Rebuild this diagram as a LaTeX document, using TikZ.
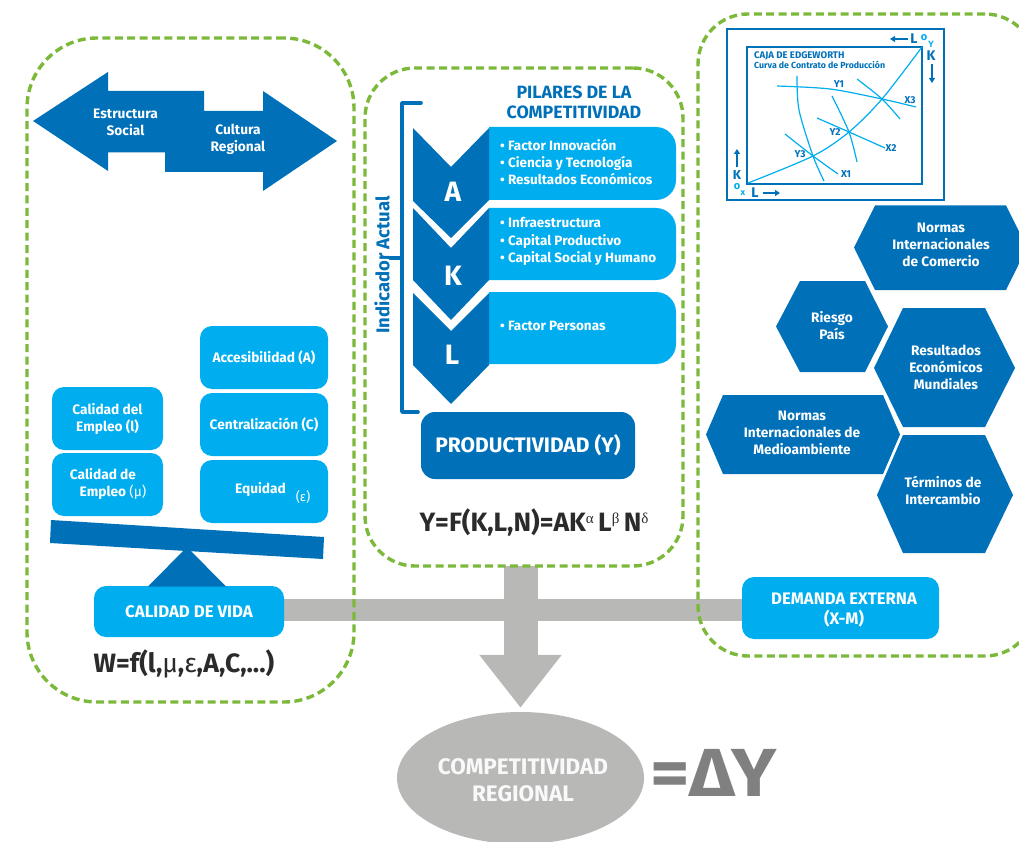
\documentclass[tikz,border=0pt]{standalone}
\usepackage{fontspec}
\setmainfont{Fira Sans}
\newfontfamily\serifg{Liberation Serif}
\usetikzlibrary{arrows.meta,calc,shapes.geometric}
\pgfdeclarelayer{background}
\pgfsetlayers{background,main}
\definecolor{dblue}{HTML}{0070B9}
\definecolor{lblue}{HTML}{00AEEF}
\definecolor{gbar}{HTML}{B8B8B7}
\definecolor{gdark}{HTML}{808080}
\definecolor{gframe}{HTML}{7CB93A}
\definecolor{ink}{HTML}{2B2B2B}
\newcommand{\fs}[2]{\fontsize{#1}{#2}\selectfont\bfseries}
\newcommand{\expo}[1]{\raisebox{8pt}{\mdseries\serifg\fontsize{15}{15}\selectfont #1}}
\tikzset{
  frame/.style={draw=gframe,line width=3.4pt,dash pattern=on 8pt off 4.4pt,rounded corners=#1,inner sep=0pt,fill=none},
  lbox/.style={fill=lblue,rounded corners=12pt,inner sep=0pt,text=white,align=center,font=\fs{13.7}{17}},
  dtext/.style={text=white,align=center,font=\fs{13.7}{17},inner sep=0pt},
  hexf/.style={fill=dblue,draw=none},
  chev/.style={fill=dblue,draw=none},
  list/.style={text=white,align=left,anchor=west,font=\fs{13.5}{17.3},inner sep=0pt},
  bar/.style={draw=gbar,line width=22pt},
  edge/.style={draw=dblue,line width=1.6pt},
  ecurve/.style={draw=lblue,line width=1.2pt},
  etext/.style={text=dblue,inner sep=0pt,font=\fs{8.8}{10}},
  earrow/.style={draw=dblue,line width=1.1pt,-{Triangle[length=5pt,width=6pt]}},
}
\begin{document}
\begin{tikzpicture}[x=1pt,y=-1pt]
\useasboundingbox (0,0) rectangle (1019,842);
% end boxes
\node[fill=gbar,ellipse,minimum width=247pt,minimum height=132pt,inner sep=0pt] (elip) at (520.5,778) {};
\node[lbox,minimum width=190pt,minimum height=51pt,font=\fs{16.8}{18}] (vida) at (189,611.5) {CALIDAD DE VIDA};
\node[lbox,minimum width=197pt,minimum height=62pt] (demanda) at (840.5,608) {};
\node[text=white,align=center,font=\fs{16.7}{20},inner sep=0pt] (demtext) at (844,610) {DEMANDA EXTERNA\\(X-M)};
\coordinate (midbottom) at (520.5,566);
\begin{pgfonlayer}{background}
% grey connectors
\draw[bar] ($(vida.east)+(0,-1.5)$) -- ($(demanda.west)+(0,2)$);
\draw[draw=gbar,line width=34pt,-{Triangle[length=53pt,width=79pt]},shorten >=4pt] (midbottom) -- (elip.north);
% green frames
\node[frame=70pt,minimum width=327pt,minimum height=664pt] (left) at (190.5,370) {};
\node[frame=50pt,minimum width=318pt,minimum height=498pt] (mid) at (524,317) {};
\node[frame=50pt,minimum width=337pt,minimum height=642pt] (right) at (866.5,335) {};
\end{pgfonlayer}
% double arrow
\fill[dblue] (33,121) -- (108,72) -- (108,91) -- (204,91) -- (204,111) -- (263,111) -- (263,91) -- (337,141) -- (263,191) -- (263,172) -- (165,172) -- (165,152.5) -- (108,152.5) -- (108,171) -- cycle;
\node[dtext] (estr) at (125.5,122) {Estructura\\Social};
\node[dtext] (cult) at (238,139.5) {Cultura\\Regional};
% left stack
\node[lbox,minimum width=128pt,minimum height=63pt] (acc) at (264,357.5) {Accesibilidad (A)};
\node[lbox,minimum width=128pt,minimum height=63pt] (cen) at (264,424.5) {Centralización (C)};
\node[lbox,minimum width=128pt,minimum height=63pt] (equ) at (264,491.5) {};
\node[dtext] (equt) at (260.5,489) {Equidad};
\node[text=white,inner sep=0pt,font=\fontsize{13}{15}\selectfont] (eps) at (303,497) {(ε)};
\node[lbox,minimum width=111pt,minimum height=63pt] (cal1) at (107.5,418.5) {Calidad del\\Empleo (l)};
\node[lbox,minimum width=111pt,minimum height=63pt] (cal2) at (107.5,484.5) {};
\node[dtext] (cal2a) at (103,474.5) {Calidad de};
\node[dtext] (cal2b) at (113,492) {Empleo {\mdseries(μ)}};
% balance
\fill[dblue] (51,520) -- (324,537) -- (323,559) -- (50,543) -- cycle;
\fill[dblue] (148,586.5) -- (187,547) -- (226,586.5) -- cycle;
\node[text=ink,inner sep=0pt,font=\fs{26.5}{28}] (wform) at (184,664) {W=f(l,{\mdseries μ},{\mdseries ε},A,C,...)};
% middle
\node[text=dblue,align=center,inner sep=0pt,font=\fs{17.8}{20}] (pil) at (574,102) {PILARES DE LA\\COMPETITIVIDAD};
\coordinate (brt) at (421,103); \coordinate (brb) at (418,412);
\draw[draw=dblue,line width=3.6pt,line cap=round,line join=round] (brt) -- (402,103) -- (402,412) -- (brb);
\draw[draw=dblue,line width=3.6pt,line cap=round] (402,258) -- (390,258);
\node[text=dblue,rotate=90,inner sep=0pt,font=\fontsize{18.5}{20}\selectfont\bfseries] (ind) at (382,265) {Indicador Actual};
\fill[lblue] (489,127) -- (656,127) .. controls (667,127) and (676,136) .. (676,147) -- (676,180) .. controls (676,191) and (667,200) .. (656,200) -- (489,200) -- cycle;
\fill[lblue] (489,208) -- (656,208) .. controls (667,208) and (676,217) .. (676,228) -- (676,260) .. controls (676,271) and (667,280) .. (656,280) -- (489,280) -- cycle;
\fill[lblue] (489,292) -- (656,292) .. controls (667,292) and (676,301) .. (676,312) -- (676,344) .. controls (676,355) and (667,364) .. (656,364) -- (489,364) -- cycle;
\fill[chev] (413,128) -- (451,167) -- (489,128) -- (489,200) -- (451,238) -- (413,201) -- cycle;
\fill[chev] (413,208) -- (451,248) -- (489,208) -- (489,280) -- (451,320) -- (413,280) -- cycle;
\fill[chev] (413,293) -- (451,331) -- (489,293) -- (489,365) -- (451,404) -- (413,365) -- cycle;
\node[text=white,inner sep=0pt,font=\fs{28}{30}] (la) at (453,192) {A};
\node[text=white,inner sep=0pt,font=\fs{28}{30}] (lk) at (453,276) {K};
\node[text=white,inner sep=0pt,font=\fs{28}{30}] (ll) at (452,355) {L};
\node[list] (l1) at (500,162) {• Factor Innovación\\• Ciencia y Tecnología\\• Resultados Económicos};
\node[list] (l2) at (500,241.5) {• Infraestructura\\• Capital Productivo\\• Capital Social y Humano};
\node[list] (l3) at (500,326) {• Factor Personas};
\node[fill=dblue,rounded corners=14pt,minimum width=214pt,minimum height=67pt,inner sep=0pt,text=white,font=\fs{21}{24}] (prod) at (528,445.5) {PRODUCTIVIDAD (Y)};
\node[text=ink,inner sep=0pt,font=\fs{26.5}{28}] (yform) at (534,522) {Y=F(K,L,N)=AK\expo{α}\,L\expo{β}\,N\expo{δ}};
% edgeworth
\draw[edge] (727,29) rectangle (944,200);
\draw[edge] (747,47) rectangle (922,184);
\node[etext,anchor=west,font=\fs{9.6}{11}] (e1) at (754,56) {CAJA DE EDGEWORTH};
\node[etext,anchor=west] (e2) at (754,65) {Curva de Contrato de Producción};
\draw[ecurve] plot[smooth] coordinates {(748,183) (813,156) (849,132) (882,99) (922,47)};
\draw[ecurve] plot[smooth] coordinates {(777,86) (830,89) (882,99) (916,107)};
\draw[ecurve] plot[smooth] coordinates {(797,76) (799,110) (813,156) (824,181)};
\draw[ecurve] plot[smooth] coordinates {(785,134) (813,156) (838,174)};
\draw[ecurve] plot[smooth] coordinates {(832,96) (849,132) (857,162)};
\draw[ecurve] plot[smooth] coordinates {(817,118) (849,132) (885,148)};
\draw[ecurve] plot[smooth] coordinates {(857,79) (882,99) (900,119)};
\node[etext,font=\fs{10}{11}] (y1) at (839,84) {Y1};
\node[etext,font=\fs{10}{11}] (y2) at (835,132) {Y2};
\node[etext,font=\fs{10}{11}] (y3) at (800,154) {Y3};
\node[etext,font=\fs{10}{11}] (x1) at (846,174) {X1};
\node[etext,font=\fs{10}{11}] (x2) at (891,148) {X2};
\node[etext,font=\fs{10}{11}] (x3) at (910,100) {X3};
\node[etext,font=\fs{14}{15}] (lt) at (914,39) {L};
\node[etext,font=\fs{14}{15}] (kt) at (931,56) {K};
\node[etext,font=\fs{13}{14}] (kb) at (737,175) {K};
\node[etext,font=\fs{14}{15}] (lb) at (755,193) {L};
\node[etext,text=lblue,font=\fs{11}{11}] (ot) at (924,38) {o};
\node[etext,text=lblue,font=\fs{9}{9}] (yt) at (931,44) {Y};
\node[etext,text=lblue,font=\fs{11}{11}] (ob) at (737,187) {o};
\node[etext,text=lblue,font=\fs{9}{9}] (xb) at (743,193) {x};
\draw[earrow] (lt.west) ++(-2,0) -- (890,39);
\draw[earrow] (kt.south) ++(1,3) -- (932,83);
\draw[earrow] (kb.north) ++(0,-3) -- (737,149);
\draw[earrow] (lb.east) ++(4,0) -- (780,193);
% hexagons
\fill[hexf] (854,247.5) -- (875,205.5) -- (1006,205.5) -- (1027,247.5) -- (1006,290) -- (875,290) -- cycle;
\fill[hexf] (776,326.5) -- (800,281) -- (865,281) -- (888,326.5) -- (865,372) -- (800,372) -- cycle;
\fill[hexf] (874,368) -- (903,308) -- (985,308) -- (1015,368) -- (985,427) -- (903,427) -- cycle;
\fill[hexf] (706,434.5) -- (723,395) -- (883,395) -- (900,434.5) -- (883,474) -- (723,474) -- cycle;
\fill[hexf] (877,495) -- (903,435) -- (985,435) -- (1013,495) -- (985,553) -- (903,553) -- cycle;
\node[dtext] (h1) at (941,245) {Normas\\Internacionales\\de Comercio};
\node[dtext] (h2) at (832,326) {Riesgo\\País};
\node[dtext] (h3) at (946,367) {Resultados\\Económicos\\Mundiales};
\node[dtext] (h4) at (802,432.5) {Normas\\Internacionales de\\Medioambiente};
\node[dtext] (h5) at (943,490.5) {Términos de\\Intercambio};
% bottom
\node[text=white!92!gbar,align=center,inner sep=0pt,font=\fs{22.5}{27}] (comp) at (523,780.5) {COMPETITIVIDAD\\REGIONAL};
\node[text=gdark,inner sep=0pt,anchor=west,xscale=1.12,font=\fs{68}{70}] (dy) at (650,773) {=ΔY};
\end{tikzpicture}
\end{document}
